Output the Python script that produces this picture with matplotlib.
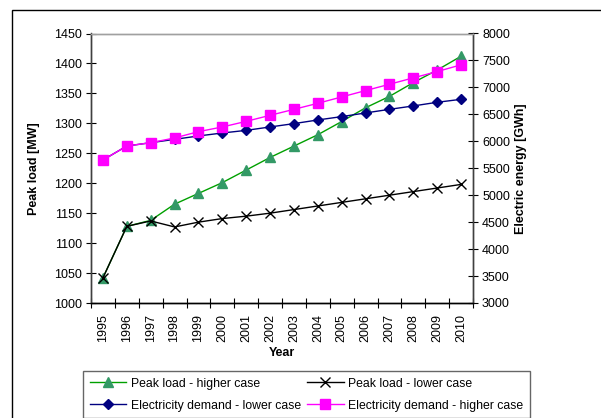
import matplotlib
matplotlib.use("Agg")
import matplotlib.pyplot as plt
from matplotlib.patches import Rectangle

plt.rcParams['font.family'] = ['Liberation Sans', 'DejaVu Sans']

years = list(range(1995, 2011))
peak_high = [1042, 1128, 1138, 1165, 1183, 1201, 1222, 1243, 1262, 1281, 1303, 1326, 1345, 1368, 1389, 1412]
peak_low = [1042, 1128, 1137, 1127, 1135, 1141, 1145, 1150, 1156, 1162, 1168, 1174, 1180, 1186, 1192, 1198]
energy_low = [5653, 5913, 5974, 6036, 6099, 6154, 6203, 6266, 6328, 6396, 6458, 6526, 6593, 6656, 6724, 6779]
energy_high = [5653, 5913, 5974, 6062, 6179, 6266, 6370, 6482, 6593, 6705, 6823, 6941, 7058, 7177, 7294, 7419]

W, H = 601, 418
fig = plt.figure(figsize=(W / 100, H / 100), dpi=100)

# outer chart frame (only left/top edges fall inside the canvas)
fig.patches.append(Rectangle((12 / W, -0.2), 1.5, 1.2 - 10 / H,
                             transform=fig.transFigure, fill=False,
                             edgecolor='black', linewidth=1.0))

ax = fig.add_axes([91 / W, 1 - 303 / H, (473 - 91) / W, (303 - 33.5) / H])
ax2 = ax.twinx()

x = list(range(len(years)))
fs = 9

ax.plot(x, peak_high, color='#00A000', lw=1.0, marker='^', ms=7,
        mfc='#339966', mec='#339966', label='Peak load - higher case', zorder=3)
ax.plot(x, peak_low, color='black', lw=1.0, marker='x', ms=7, mew=1.0,
        label='Peak load - lower case', zorder=4)
ax2.plot(x, energy_low, color='#000080', lw=1.0, marker='D', ms=5,
         mfc='#000080', mec='#000080', label='Electricity demand - lower case')
ax2.plot(x, energy_high, color='#FF00FF', lw=1.0, marker='s', ms=7,
         mfc='#FF00FF', mec='#FF00FF', label='Electricity demand - higher case')

ax.set_xlim(-0.5, len(years) - 0.5)
ax.set_ylim(1000, 1450)
ax.set_yticks(range(1000, 1451, 50))
ax2.set_ylim(3000, 8000)
ax2.set_yticks(range(3000, 8001, 500))

ax.set_xticks(x)
ax.set_xticklabels([str(y) for y in years], rotation=90, fontsize=fs)
ax.set_xticks([i - 0.5 for i in range(len(years) + 1)], minor=True)
ax.tick_params(axis='x', which='major', length=0, pad=8)
ax.tick_params(axis='x', which='minor', length=7, direction='inout', width=0.8)
ax.tick_params(axis='y', labelsize=fs, length=7, direction='inout', width=0.8, pad=3)
ax2.tick_params(axis='y', labelsize=fs, length=7, direction='inout', width=0.8, pad=3)

for a in (ax, ax2):
    a.spines['top'].set_color('#a0a0a0')
    a.spines['bottom'].set_color('black')
    a.spines['left'].set_color('#404040')
    a.spines['right'].set_color('#404040')
    for s in a.spines.values():
        s.set_linewidth(1.0)

ax.set_xlabel('Year', fontsize=fs, fontweight='bold')
ax.set_ylabel('Peak load [MW]', fontsize=fs, fontweight='bold')
ax2.set_ylabel('Electric energy [GWh]', fontsize=fs, fontweight='bold')
ax.xaxis.set_label_coords(0.5, -(353 - 303) / 269.5, transform=ax.transAxes)
ax.yaxis.set_label_coords((34 - 91) / 382, 0.5)
ax2.yaxis.set_label_coords((521 - 91) / 382, 0.5)
ax.xaxis.label.set_va('center')
ax.yaxis.label.set_va('center')
ax2.yaxis.label.set_va('center')

h1, l1 = ax.get_legend_handles_labels()
h2, l2 = ax2.get_legend_handles_labels()
handles = [h1[0], h2[0], h1[1], h2[1]]
labels = [l1[0], l2[0], l1[1], l2[1]]
leg = fig.legend(handles, labels, ncol=2, loc='upper left',
                 bbox_to_anchor=(83 / W, 1 - 371 / H), fontsize=8.8,
                 frameon=True, fancybox=False, edgecolor='#404040',
                 handlelength=3.0, columnspacing=0.45, handletextpad=0.4,
                 labelspacing=0.8, borderpad=0.55, borderaxespad=0)
leg.get_frame().set_linewidth(1.0)

fig.savefig('out.png', dpi=100)
